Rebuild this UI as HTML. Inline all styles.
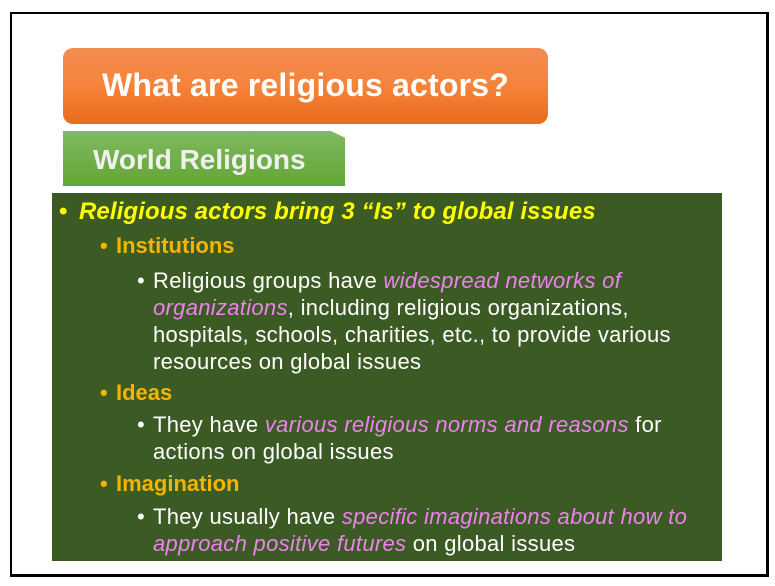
<!DOCTYPE html>
<html><head><meta charset="utf-8"><style>
body{margin:0;width:775px;height:586px;background:#fff;position:relative;overflow:hidden;font-family:"Liberation Sans",sans-serif}
.abs{position:absolute;white-space:nowrap}
.t{color:#fff;font-size:22px;letter-spacing:0.3px;line-height:27px}
.p{color:#ee82ee;font-style:italic}
.dot{position:absolute;left:-16px}
.h{color:#f5b400;font-weight:bold;font-size:22px}
</style></head><body>
<div class="abs" style="left:10px;top:12px;width:754px;height:560px;border:2px solid #000;border-right-width:3px;border-bottom-width:3px"></div>
<div class="abs" style="left:63px;top:48px;width:485px;height:76px;border-radius:10px;background:linear-gradient(#f28c52,#f6833a 50%,#e86c1a)"></div>
<div class="abs" style="left:63px;top:67px;width:485px;text-align:center;color:#fff;font-weight:bold;font-size:32px;letter-spacing:0.2px">What are religious actors?</div>
<div class="abs" style="left:63px;top:131px;width:282px;height:55px;background:linear-gradient(#80b960,#63a635);clip-path:polygon(0 0,95% 0,100% 12%,100% 100%,0 100%)"></div>
<div class="abs" style="left:93px;top:144px;color:#f0f0f0;font-weight:bold;font-size:28px">World Religions</div>
<div class="abs" style="left:52px;top:193px;width:670px;height:368px;background:#3b5a24"></div>
<div class="abs" style="left:79px;top:198px;color:#ffff00;font-weight:bold;font-style:italic;font-size:24px;letter-spacing:0.1px"><span class="dot" style="font-style:normal;left:-20px">•</span>Religious actors bring 3 “Is” to global issues</div>
<div class="abs h" style="left:116px;top:233px"><span class="dot">•</span>Institutions</div>
<div class="abs t" style="left:153px;top:267px"><span class="dot">•</span>Religious groups have <span class="p">widespread networks of</span><br><span class="p">organizations</span>, including religious organizations,<br>hospitals, schools, charities, etc., to provide various<br>resources on global issues</div>
<div class="abs h" style="left:116px;top:380px"><span class="dot">•</span>Ideas</div>
<div class="abs t" style="left:153px;top:411px"><span class="dot">•</span>They have <span class="p">various religious norms and reasons</span> for<br>actions on global issues</div>
<div class="abs h" style="left:116px;top:471px"><span class="dot">•</span>Imagination</div>
<div class="abs t" style="left:153px;top:503px"><span class="dot">•</span>They usually have <span class="p">specific imaginations about how to</span><br><span class="p">approach positive futures</span> on global issues</div>
</body></html>
